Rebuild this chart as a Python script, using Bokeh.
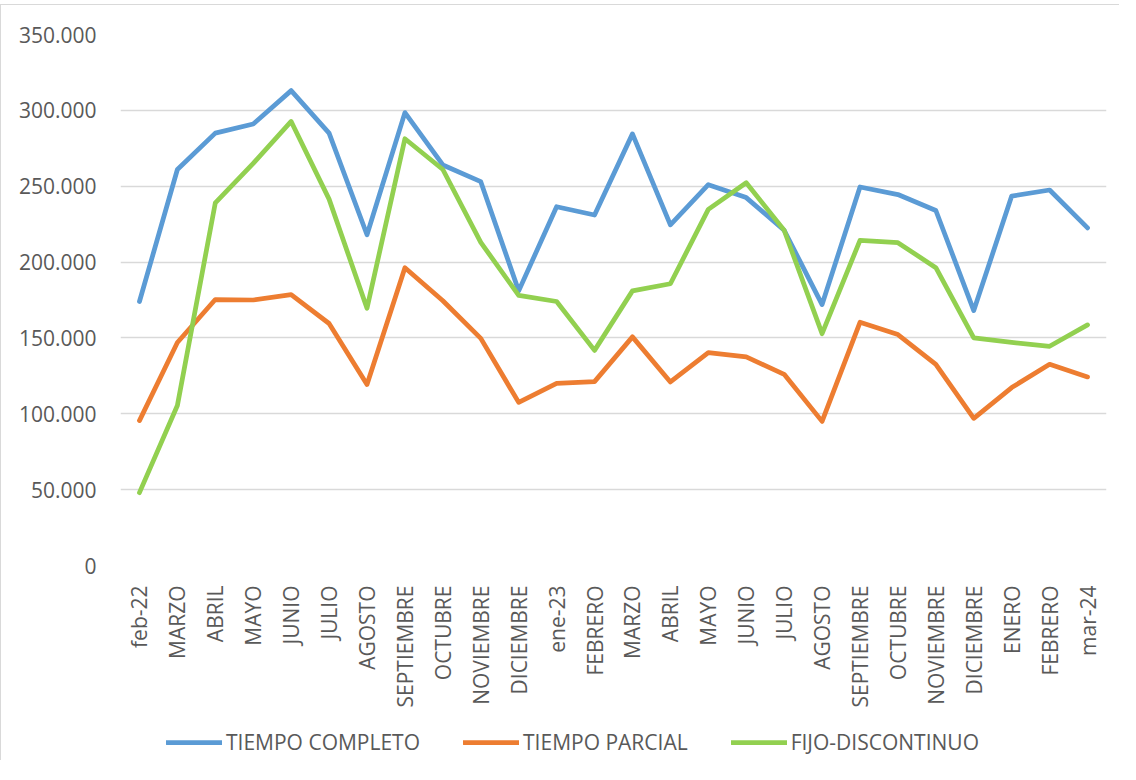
from bokeh.plotting import figure
from bokeh.layouts import column
from bokeh.models import FixedTicker, Legend, LegendItem, ColumnDataSource
from bokeh.embed import file_html
from bokeh.resources import INLINE
import math

# ---- data ----
months = ["feb-22", "MARZO", "ABRIL", "MAYO", "JUNIO", "JULIO", "AGOSTO", "SEPTIEMBRE",
          "OCTUBRE", "NOVIEMBRE", "DICIEMBRE", "ene-23", "FEBRERO", "MARZO", "ABRIL",
          "MAYO", "JUNIO", "JULIO", "AGOSTO", "SEPTIEMBRE", "OCTUBRE", "NOVIEMBRE",
          "DICIEMBRE", "ENERO", "FEBRERO", "mar-24"]
tiempo_completo = [174000, 261000, 285000, 291000, 313000, 285000, 218000, 298500,
                   264000, 253000, 181000, 236500, 231000, 284500, 224500, 251000,
                   242500, 221000, 172000, 249500, 244500, 234000, 168000, 243500,
                   247500, 222500]
tiempo_parcial = [95500, 147000, 175300, 175000, 178500, 159500, 119300, 196300,
                  174500, 149700, 107500, 120000, 121200, 150700, 121000, 140300,
                  137500, 126000, 95000, 160300, 152200, 132600, 97000, 117300,
                  132600, 124300]
fijo_discontinuo = [48000, 105500, 239000, 265000, 292700, 241500, 169500, 281300,
                    261000, 213000, 178000, 174000, 141800, 181000, 185700, 234700,
                    252300, 221000, 152800, 214300, 212800, 196300, 150000, 147000,
                    144500, 158600]
series_names = ["TIEMPO COMPLETO", "TIEMPO PARCIAL", "FIJO-DISCONTINUO"]
series_colors = ["#5B9BD5", "#ED7D31", "#92D050"]
y_ticks = [0, 50000, 100000, 150000, 200000, 250000, 300000, 350000]

x = list(range(len(months)))
FONT = "Open Sans"
FS = "21px"
TXT = "#595959"
W = 1118
LW = 4.75

p = figure(width=W, height=707, output_backend="svg", toolbar_location=None,
           x_range=(-0.5, len(months) - 0.5), y_range=(0, 350000),
           min_border_left=119, min_border_right=13, min_border_top=29,
           min_border_bottom=147)
p.outline_line_color = None
p.background_fill_color = "white"
p.border_fill_color = "white"

# grid
p.xgrid.grid_line_color = None
p.ygrid.grid_line_color = "#d9d9d9"
p.ygrid.grid_line_width = 1.5

# axes
p.yaxis.ticker = FixedTicker(ticks=y_ticks)
p.yaxis.major_label_overrides = {v: (f"{v:,}".replace(",", ".") if v else "0") for v in y_ticks}
p.xaxis.ticker = FixedTicker(ticks=x)
p.xaxis.major_label_overrides = {i: m for i, m in enumerate(months)}
p.xaxis.major_label_orientation = math.pi / 2
for ax in (p.xaxis, p.yaxis):
    ax.axis_line_color = None
    ax.major_tick_line_color = None
    ax.minor_tick_line_color = None
    ax.major_label_text_font = FONT
    ax.major_label_text_font_size = FS
    ax.major_label_text_color = TXT
p.yaxis.major_label_standoff = 18
p.xaxis.major_label_standoff = 14

for vals, col in zip([tiempo_completo, tiempo_parcial, fijo_discontinuo], series_colors):
    src = ColumnDataSource(dict(x=x, y=vals))
    p.line("x", "y", source=src, line_color=col, line_width=LW,
           line_join="round", line_cap="round")

# ---- legend strip below the chart ----
lg = figure(width=W, height=48, output_backend="svg", toolbar_location=None,
            x_range=(0, 1), y_range=(0, 1),
            min_border_left=0, min_border_right=0, min_border_top=0, min_border_bottom=0)
lg.axis.visible = False
lg.grid.visible = False
lg.outline_line_color = None
lg.border_fill_color = "white"
nan = float("nan")
dummies = []
for col in series_colors:
    dummies.append(lg.line(x=[nan], y=[nan], line_color=col, line_width=LW, line_cap="round"))

legend = Legend(items=[LegendItem(label=n, renderers=[r]) for n, r in zip(series_names, dummies)],
                orientation="horizontal", location=(46, 4),
                glyph_width=56, glyph_height=20, label_standoff=4, spacing=43,
                padding=0, margin=0, border_line_color=None, background_fill_alpha=0,
                label_text_font=FONT, label_text_font_size=FS, label_text_color=TXT)
lg.add_layout(legend, "center")

layout = column(p, lg, spacing=0,
                styles={"border-top": "1px solid #d9d9d9", "border-left": "1px solid #d9d9d9",
                        "margin-top": "4px"})

open("out.html", "w").write(file_html(layout, INLINE))
